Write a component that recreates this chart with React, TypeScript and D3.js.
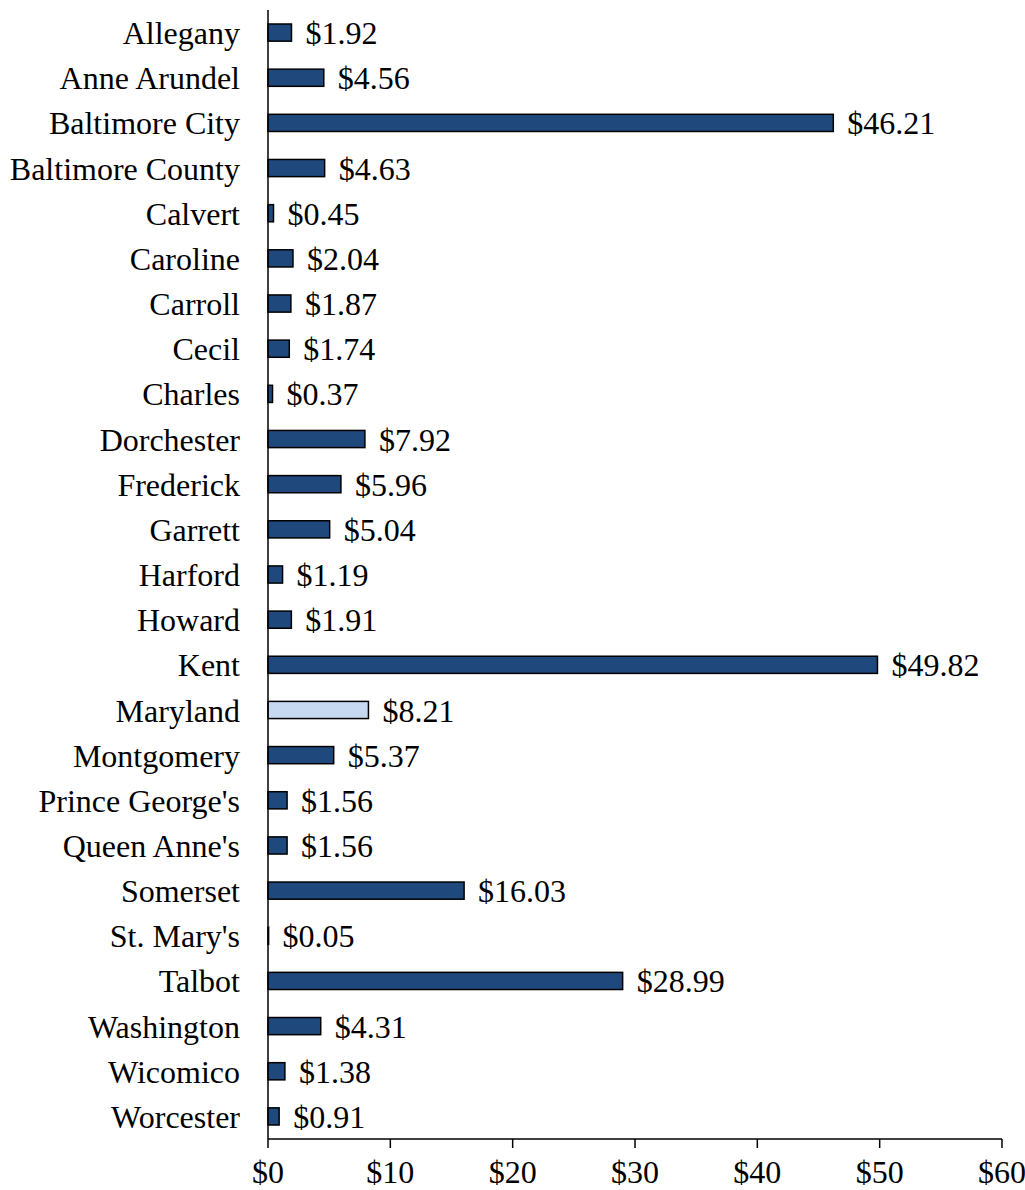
import * as d3 from "d3";

const counties = [
  "Allegany", "Anne Arundel", "Baltimore City", "Baltimore County", "Calvert",
  "Caroline", "Carroll", "Cecil", "Charles", "Dorchester", "Frederick", "Garrett",
  "Harford", "Howard", "Kent", "Maryland", "Montgomery", "Prince George's",
  "Queen Anne's", "Somerset", "St. Mary's", "Talbot", "Washington", "Wicomico",
  "Worcester",
];
const amounts = [
  1.92, 4.56, 46.21, 4.63, 0.45, 2.04, 1.87, 1.74, 0.37, 7.92, 5.96, 5.04,
  1.19, 1.91, 49.82, 8.21, 5.37, 1.56, 1.56, 16.03, 0.05, 28.99, 4.31, 1.38,
  0.91,
];
const xTicks = [0, 10, 20, 30, 40, 50, 60];
const highlight = "Maryland";

const W = 1025;
const H = 1190;
const FONT = "Liberation Serif, Times New Roman, DejaVu Serif, serif";

export default function App() {
  const x = d3.scaleLinear().domain([0, 60]).range([268, 1002]);
  const y = d3.scaleBand<string>().domain(counties).range([10, 1139]).paddingInner(0.62).paddingOuter(0.31);
  const fmt = (v: number) => "$" + d3.format(".2f")(v);
  const baseY = 1139;

  return (
    <svg
      width={W}
      height={H}
      style={{ position: "absolute", left: 0, top: 0, fontFamily: FONT }}
    >
      {counties.map((c, i) => {
        const cy = y(c)! + y.bandwidth() / 2;
        return (
          <g key={c}>
            <rect
              x={x(0)}
              y={y(c)}
              width={x(amounts[i]) - x(0)}
              height={y.bandwidth()}
              fill={c === highlight ? "#c6d9f1" : "#1f497d"}
              stroke="#000"
              strokeWidth={1.5}
            />
            <text x={240} y={cy} dy="0.36em" textAnchor="end" fontSize={32} fill="#000">
              {c}
            </text>
            <text x={x(amounts[i]) + 14} y={cy} dy="0.36em" fontSize={32} fill="#000">
              {fmt(amounts[i])}
            </text>
          </g>
        );
      })}
      <line x1={x(0)} x2={x(0)} y1={10} y2={baseY} stroke="#000" strokeWidth={1.5} />
      <line x1={x(0)} x2={x(60)} y1={baseY} y2={baseY} stroke="#000" strokeWidth={1.5} />
      {xTicks.map((t) => (
        <g key={t}>
          <line x1={x(t)} x2={x(t)} y1={baseY} y2={baseY + 9} stroke="#000" strokeWidth={1.5} />
          <text x={x(t)} y={baseY + 44} textAnchor="middle" fontSize={32} fill="#000">
            {"$" + t}
          </text>
        </g>
      ))}
    </svg>
  );
}
